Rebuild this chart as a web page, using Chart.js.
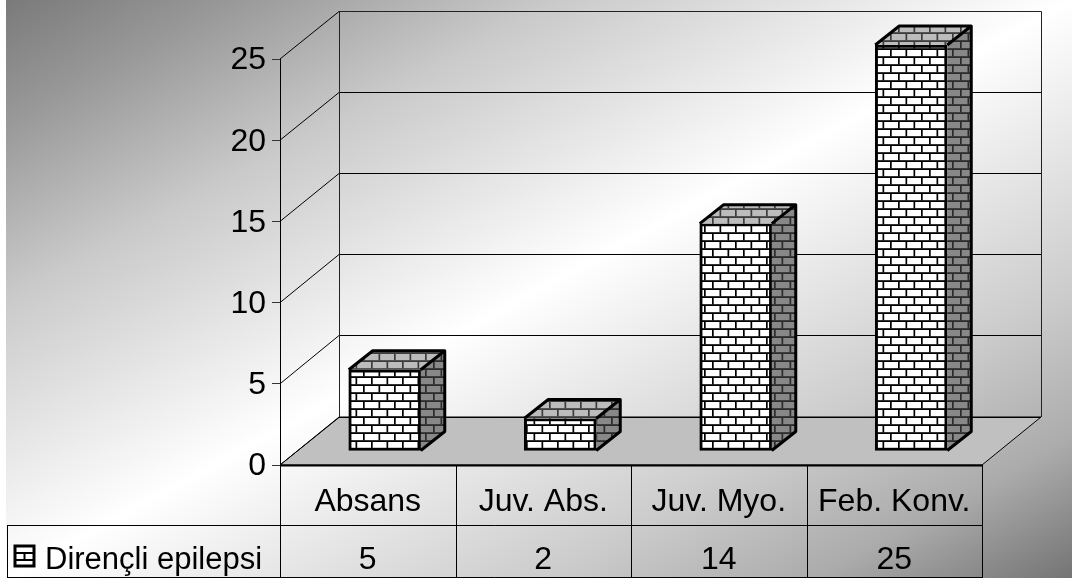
<!DOCTYPE html>
<html>
<head>
<meta charset="utf-8">
<title>Dirençli epilepsi</title>
<script src="https://cdn.jsdelivr.net/npm/chart.js@4"></script>
<style>
    html, body { margin: 0; padding: 0; background: #fff; }
    canvas { display: block; }
</style>
</head>
<body>
<canvas id="chart" width="1072" height="581"></canvas>
<script>
const categories = ["Absans", "Juv. Abs.", "Juv. Myo.", "Feb. Konv."];
const seriesName = "Dirençli epilepsi";
const seriesValues = [5, 2, 14, 25];

const FONT = "'Liberation Sans', Arial, sans-serif";
const WALL = { dx: 59, dy: -48 };   // depth of the chart box
const BAR_SHIFT = { dx: 17, dy: -14 }; // bars stand inside the box
const BAR_DEPTH = { dx: 24, dy: -19 };
const TABLE = { left: 7, mid: 525, bottom: 578 };
const PANEL = { left: 6, bottom: 578 }; // gradient stops short of the page edge here

// Builds a tiling brick texture
function brickPattern(brick, mortar) {
    const c = document.createElement('canvas');
    c.width = 31;
    c.height = 16;
    const g = c.getContext('2d');
    g.fillStyle = brick;
    g.fillRect(0, 0, 31, 16);
    g.fillStyle = mortar;
    g.fillRect(0, 6.2, 31, 1.8);
    g.fillRect(0, 14.2, 31, 1.8);
    g.fillRect(5, 0, 1.7, 6.5);
    g.fillRect(20.5, 0, 1.7, 6.5);
    g.fillRect(13, 8, 1.7, 6.5);
    g.fillRect(28.5, 8, 1.7, 6.5);
    return document.createElement('canvas').getContext('2d').createPattern(c, 'repeat');
}

const frontBricks = brickPattern('#ffffff', '#000000');
const topBricks = brickPattern('#bcbcbc', '#3c3c3c');
const sideBricks = brickPattern('#888888', '#2c2c2c');

// Fills a closed polygon with the given style
function fillPolygon(ctx, points, style) {
    ctx.beginPath();
    points.forEach((p, i) => (i ? ctx.lineTo(p[0], p[1]) : ctx.moveTo(p[0], p[1])));
    ctx.closePath();
    ctx.fillStyle = style;
    ctx.fill();
}

// Page background, box walls, floor and gridlines
const boxPlugin = {
    id: 'box',
    beforeDraw(chart) {
        const ctx = chart.ctx;
        const x0 = PANEL.left;
        const w = chart.width - x0, h = PANEL.bottom;
        const cx = x0 + w / 2, cy = h / 2;
        // gradient axis perpendicular to the bottom-left / top-right diagonal
        const k = (w * h) / (w * w + h * h);
        const grad = ctx.createLinearGradient(cx - h * k, cy - w * k, cx + h * k, cy + w * k);
        grad.addColorStop(0, '#7a7a7a');
        grad.addColorStop(0.105, '#989898');
        grad.addColorStop(0.26, '#cacaca');
        grad.addColorStop(0.5, '#ffffff');
        grad.addColorStop(0.75, '#cccccc');
        grad.addColorStop(0.88, '#ababab');
        grad.addColorStop(1, '#747474');
        ctx.fillStyle = grad;
        ctx.fillRect(x0, 0, w, h);
    },
    beforeDatasetsDraw(chart) {
        const ctx = chart.ctx;
        const a = chart.chartArea;
        const y = chart.scales.y;
        const bl = a.left + WALL.dx, br = a.right + WALL.dx;
        const floorY = a.bottom + WALL.dy;

        ctx.save();
        fillPolygon(ctx, [[a.left, a.bottom], [bl, floorY], [br, floorY], [a.right, a.bottom]], '#c0c0c0');
        ctx.strokeStyle = '#000';
        ctx.lineWidth = 1;
        ctx.stroke();

        // gridlines run along the left wall and the back wall
        y.ticks.forEach(t => {
            const py = y.getPixelForValue(t.value);
            const back = Math.floor(py + WALL.dy) + 0.5;
            ctx.beginPath();
            ctx.moveTo(a.left, py);
            ctx.lineTo(bl, back);
            ctx.lineTo(br, back);
            ctx.stroke();
        });

        // back wall outline
        const topY = Math.floor(y.getPixelForValue(25) + WALL.dy) + 0.5;
        ctx.strokeStyle = '#222';
        ctx.beginPath();
        ctx.moveTo(bl + 0.5, floorY);
        ctx.lineTo(bl + 0.5, topY);
        ctx.lineTo(br + 0.5, topY);
        ctx.lineTo(br + 0.5, floorY);
        ctx.stroke();
        ctx.restore();

        // bars are offset into the box until afterDatasetsDraw
        ctx.save();
        ctx.translate(BAR_SHIFT.dx, BAR_SHIFT.dy);
    },
    afterDatasetsDraw(chart) {
        const ctx = chart.ctx;
        const d = BAR_DEPTH;
        chart.getDatasetMeta(0).data.forEach(bar => {
            const half = bar.width / 2;
            const x0 = bar.x - half, x1 = bar.x + half;
            const y0 = bar.y, y1 = bar.base;

            fillPolygon(ctx, [[x0, y0], [x0 + d.dx, y0 + d.dy], [x1 + d.dx, y0 + d.dy], [x1, y0]], topBricks);
            fillPolygon(ctx, [[x1, y0], [x1 + d.dx, y0 + d.dy], [x1 + d.dx, y1 + d.dy], [x1, y1]], sideBricks);

            ctx.strokeStyle = '#000';
            ctx.lineWidth = 3;
            ctx.lineJoin = 'round';
            ctx.beginPath();
            ctx.moveTo(x0, y0);
            ctx.lineTo(x0 + d.dx, y0 + d.dy);
            ctx.lineTo(x1 + d.dx, y0 + d.dy);
            ctx.lineTo(x1 + d.dx, y1 + d.dy);
            ctx.lineTo(x1, y1);
            ctx.moveTo(x1, y0);
            ctx.lineTo(x1 + d.dx, y0 + d.dy);
            ctx.stroke();
        });
        ctx.restore();
    }
};

// Data table under the box
const tablePlugin = {
    id: 'dataTable',
    afterDraw(chart) {
        const ctx = chart.ctx;
        const a = chart.chartArea;
        const x = chart.scales.x;
        const step = (a.right - a.left) / categories.length;

        ctx.save();
        ctx.strokeStyle = '#000';
        ctx.lineWidth = 1;
        ctx.beginPath();
        ctx.moveTo(TABLE.left + 0.5, TABLE.mid + 0.5);
        ctx.lineTo(a.right, TABLE.mid + 0.5);
        ctx.moveTo(TABLE.left + 0.5, TABLE.bottom - 0.5);
        ctx.lineTo(a.right, TABLE.bottom - 0.5);
        ctx.moveTo(TABLE.left + 0.5, TABLE.mid);
        ctx.lineTo(TABLE.left + 0.5, TABLE.bottom);
        for (let i = 0; i <= categories.length; i++) {
            const px = Math.round(a.left + i * step) + 0.5;
            ctx.moveTo(px, a.bottom);
            ctx.lineTo(px, TABLE.bottom);
        }
        ctx.stroke();

        // front edge of the floor is heavier
        ctx.lineWidth = 2;
        ctx.beginPath();
        ctx.moveTo(a.left, a.bottom + 0.5);
        ctx.lineTo(a.right, a.bottom + 0.5);
        ctx.stroke();

        // series values row
        ctx.fillStyle = '#000';
        ctx.font = '32px ' + FONT;
        ctx.textAlign = 'center';
        ctx.textBaseline = 'alphabetic';
        seriesValues.forEach((v, i) => {
            ctx.fillText(String(v), x.getPixelForTick(i), 569);
        });
        ctx.font = '31px ' + FONT;
        ctx.textAlign = 'left';
        ctx.fillText(seriesName, 45, 569);

        // legend key
        ctx.fillStyle = '#fff';
        ctx.fillRect(15, 546, 19, 20);
        ctx.lineWidth = 3;
        ctx.strokeRect(15, 546, 19, 20);
        ctx.lineWidth = 2;
        ctx.beginPath();
        ctx.moveTo(15, 553);
        ctx.lineTo(34, 553);
        ctx.moveTo(15, 560);
        ctx.lineTo(34, 560);
        ctx.moveTo(24.5, 553);
        ctx.lineTo(24.5, 560);
        ctx.stroke();
        ctx.restore();
    }
};

new Chart(document.getElementById('chart'), {
    type: 'bar',
    data: {
        labels: categories,
        datasets: [{
            label: seriesName,
            data: seriesValues,
            backgroundColor: frontBricks,
            borderColor: '#000',
            borderWidth: 3,
            borderSkipped: false,
            barThickness: 72,
            clip: false
        }]
    },
    options: {
        responsive: false,
        animation: false,
        layout: { padding: { top: 59, right: 90, left: 0, bottom: 0 } },
        plugins: { legend: { display: false }, tooltip: { enabled: false } },
        scales: {
            x: {
                afterFit(scale) { scale.height = 116; },
                grid: { display: false },
                border: { display: false },
                ticks: { color: '#000', font: { family: FONT, size: 32 }, padding: 10, maxRotation: 0 }
            },
            y: {
                min: 0,
                max: 25,
                afterFit(scale) { scale.width = 280; },
                grid: { drawOnChartArea: false, color: '#333', tickLength: 8 },
                border: { color: '#000' },
                ticks: { stepSize: 5, color: '#000', font: { family: FONT, size: 32 }, padding: 6, labelOffset: 1.5 }
            }
        }
    },
    plugins: [boxPlugin, tablePlugin]
});
</script>
</body>
</html>
